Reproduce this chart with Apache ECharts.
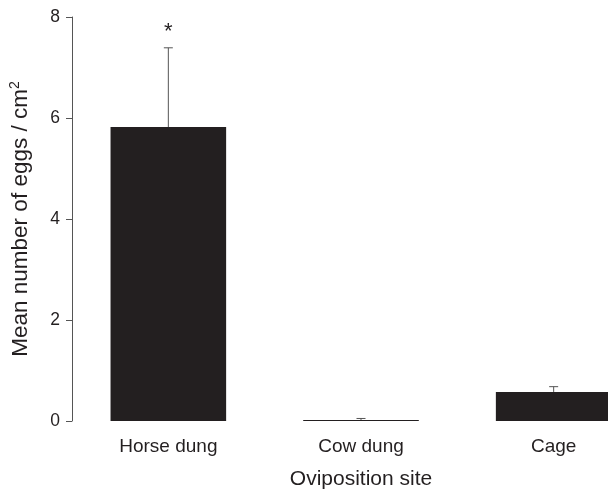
<!DOCTYPE html>
<html><head><meta charset="utf-8">
<script src="https://cdn.jsdelivr.net/npm/echarts@6/dist/echarts.min.js"></script>
<style>html,body{margin:0;padding:0;background:#fff}#c{width:608px;height:489px}</style>
</head><body><div id="c"></div>
<script>
const categories = ['Horse dung', 'Cow dung', 'Cage'];
const means = [5.82, 0.02, 0.575];
const errorTops = [7.39, 0.05, 0.68];
const significance = ['*', '', ''];
const yTicks = [0, 2, 4, 6, 8];

const chart = echarts.init(document.getElementById('c'));
const font = 'Liberation Sans, Arial, Helvetica, sans-serif';
chart.setOption({
  animation: false,
  grid: { left: 72, right: -42, top: 17, bottom: 68, containLabel: false, outerBoundsMode: 'none' },
  xAxis: {
    type: 'category', data: categories,
    axisLine: { show: false }, axisTick: { show: false },
    axisLabel: { color: '#231f20', fontSize: 19, fontFamily: font, margin: 16 },
    name: 'Oviposition site', nameLocation: 'middle', nameGap: 48,
    nameTextStyle: { color: '#231f20', fontSize: 21, fontFamily: font }
  },
  yAxis: {
    type: 'value', min: yTicks[0], max: yTicks[yTicks.length - 1], interval: 2,
    axisLine: { show: true, lineStyle: { color: '#555', width: 1 } },
    axisTick: { show: true, length: 6, lineStyle: { color: '#555' } },
    splitLine: { show: false },
    axisLabel: { color: '#231f20', fontSize: 17.5, fontFamily: font, margin: 12 },
    name: '{n|Mean number of eggs / cm}{s|2}', nameLocation: 'middle', nameGap: 38,
    nameTextStyle: {
      color: '#231f20', fontSize: 22, fontFamily: font,
      rich: { n: { fontSize: 22.5, fontFamily: font, color: '#231f20' },
              s: { fontSize: 14, fontFamily: font, color: '#231f20', verticalAlign: 'top', padding: [0, 0, 12, 0] } }
    }
  },
  series: [
    {
      type: 'bar', data: means, barCategoryGap: '40%',
      itemStyle: { color: '#231f20' }, z: 2
    },
    {
      type: 'custom', z: 3,
      data: categories.map((c, i) => [i, means[i], errorTops[i]]),
      renderItem: function (params, api) {
        const x = api.value(0);
        const b = api.coord([x, api.value(1)]);
        const t = api.coord([x, api.value(2)]);
        const cap = 4.5;
        const children = [
          { type: 'line', shape: { x1: b[0], y1: b[1], x2: t[0], y2: t[1] }, style: { stroke: '#555', lineWidth: 1 } },
          { type: 'line', shape: { x1: t[0] - cap, y1: t[1], x2: t[0] + cap, y2: t[1] }, style: { stroke: '#555', lineWidth: 1 } }
        ];
        const sig = significance[params.dataIndex];
        if (sig) {
          children.push({ type: 'text', x: t[0], y: t[1] - 16, style: { text: sig, fill: '#231f20', fontSize: 22, fontFamily: font, align: 'center', verticalAlign: 'middle' } });
        }
        return { type: 'group', children: children };
      }
    }
  ]
});
</script></body></html>
